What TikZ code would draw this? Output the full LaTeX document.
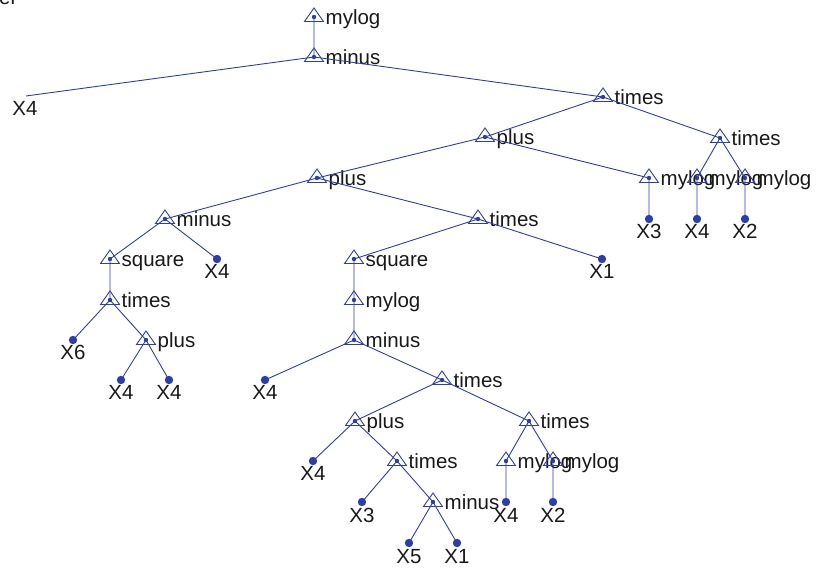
\documentclass[tikz,border=0pt]{standalone}
\usepackage{fontspec}
\setmainfont{Liberation Sans}
\definecolor{treeblue}{RGB}{45,62,168}
\definecolor{txt}{RGB}{25,25,25}
\newcommand\opnode[4]{%
  \coordinate (#1) at (#2,#3);
  \draw[tri] (#2,#3-9) -- (#2+9.5,#3+4.5) -- (#2-9.5,#3+4.5) -- cycle;
  \fill[treeblue] (#1) circle (2.2);
  \node[lbl] (#1-t) at (#2+11.5,#3+8) {#4};}
\newcommand\leafnode[4]{%
  \coordinate (#1) at (#2,#3);
  \fill[treeblue] (#1) circle (4.2);
  \node[leaflbl] (#1-t) at (#2,#3+20) {#4};}
\begin{document}
\begin{tikzpicture}[x=1pt,y=-1pt,
  edge/.style={draw=treeblue,line width=0.9pt},
  tri/.style={draw=treeblue,line width=0.9pt},
  lbl/.style={anchor=base west,inner sep=0pt,text=txt,font=\fontsize{20.5}{24}\selectfont},
  leaflbl/.style={anchor=base,inner sep=0pt,text=txt,font=\fontsize{20.5}{24}\selectfont}]
\useasboundingbox (0,0) rectangle (823,569);
\begin{scope}
\clip (0,0) rectangle (823,569);
\node[lbl] (cut) at (-1,5) {el};
\end{scope}
% internal nodes
\opnode{r}{314}{17}{mylog}
\opnode{m1}{314}{57}{minus}
\opnode{t1}{603}{97}{times}
\opnode{p1}{485}{137}{plus}
\opnode{t2}{720}{138}{times}
\opnode{p2}{317}{178}{plus}
\opnode{g1}{649}{178}{mylog}
\opnode{g2}{697}{178}{mylog}
\opnode{g3}{745}{178}{mylog}
\opnode{mn1}{165}{219}{minus}
\opnode{t3}{478}{219}{times}
\opnode{sq1}{110}{259}{square}
\opnode{sq2}{354}{259}{square}
\opnode{t4}{110}{300}{times}
\opnode{g4}{354}{300}{mylog}
\opnode{p3}{146}{340}{plus}
\opnode{mn2}{354}{340}{minus}
\opnode{t5}{442}{380}{times}
\opnode{p4}{355}{421}{plus}
\opnode{t6}{529}{421}{times}
\opnode{t7}{397}{461}{times}
\opnode{g5}{506}{461}{mylog}
\opnode{g6}{553}{461}{mylog}
\opnode{mn3}{433}{502}{minus}
% leaves
\coordinate (l0) at (26,96);
\node[leaflbl] (l0-t) at (25,116) {X4};
\leafnode{x3a}{649}{219}{X3}
\leafnode{x4a}{697}{219}{X4}
\leafnode{x2a}{745}{219}{X2}
\leafnode{x4b}{217}{259}{X4}
\leafnode{x1a}{602}{259}{X1}
\leafnode{x6}{73}{340}{X6}
\leafnode{x4c}{121}{380}{X4}
\leafnode{x4d}{169}{380}{X4}
\leafnode{x4e}{265}{380}{X4}
\leafnode{x4f}{313}{461}{X4}
\leafnode{x3b}{362}{502}{X3}
\leafnode{x4g}{506}{502}{X4}
\leafnode{x2b}{553}{502}{X2}
\leafnode{x5}{409}{543}{X5}
\leafnode{x1b}{457}{543}{X1}
% edges
\path[edge]
  (r) -- (m1)
  (m1) -- (l0) (m1) -- (t1)
  (t1) -- (p1) (t1) -- (t2)
  (p1) -- (p2) (p1) -- (g1)
  (t2) -- (g2) (t2) -- (g3)
  (g1) -- (x3a) (g2) -- (x4a) (g3) -- (x2a)
  (p2) -- (mn1) (p2) -- (t3)
  (mn1) -- (sq1) (mn1) -- (x4b)
  (t3) -- (sq2) (t3) -- (x1a)
  (sq1) -- (t4)
  (sq2) -- (g4)
  (t4) -- (x6) (t4) -- (p3)
  (g4) -- (mn2)
  (p3) -- (x4c) (p3) -- (x4d)
  (mn2) -- (x4e) (mn2) -- (t5)
  (t5) -- (p4) (t5) -- (t6)
  (p4) -- (x4f) (p4) -- (t7)
  (t6) -- (g5) (t6) -- (g6)
  (t7) -- (x3b) (t7) -- (mn3)
  (g5) -- (x4g) (g6) -- (x2b)
  (mn3) -- (x5) (mn3) -- (x1b);
\end{tikzpicture}
\end{document}
